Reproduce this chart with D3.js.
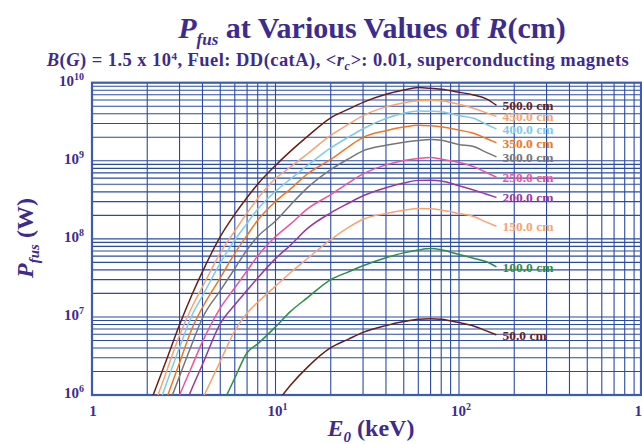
<!DOCTYPE html>
<html><head><meta charset="utf-8">
<script src="https://cdn.jsdelivr.net/npm/d3@7"></script>
<style>
html,body{margin:0;padding:0;background:#fff;}
svg{display:block;}
text{font-family:"Liberation Serif","Times New Roman",serif;font-weight:bold;}
</style></head>
<body><svg id="chart" width="642" height="444"></svg>
<script>
// ---- data ----
const energy = [2, 2.5, 3, 3.5, 4, 5, 6, 7, 8, 10, 12, 15, 20, 25, 30, 40, 50, 60, 70, 80, 100, 120, 140, 160];
const p500 = [6.31e5, 2.51e6, 7.94e6, 1.91e7, 3.80e7, 1.07e8, 2.07e8, 3.39e8, 5.01e8, 8.71e8, 1.31e9, 2.07e9, 3.55e9, 4.58e9, 5.60e9, 7.10e9, 8.05e9, 8.65e9, 8.47e9, 8.22e9, 7.55e9, 6.97e9, 6.25e9, 5.13e9];
const p450 = [4.17e5, 1.77e6, 5.81e6, 1.33e7, 2.43e7, 6.58e7, 1.26e8, 2.14e8, 3.29e8, 5.94e8, 8.24e8, 1.24e9, 2.11e9, 2.94e9, 3.78e9, 4.90e9, 5.55e9, 5.87e9, 5.96e9, 5.87e9, 5.31e9, 4.70e9, 4.14e9, 3.70e9];
const p400 = [2.95e5, 1.25e6, 4.08e6, 1.04e7, 1.86e7, 4.90e7, 9.66e7, 1.58e8, 2.40e8, 4.05e8, 5.78e8, 8.77e8, 1.46e9, 2.01e9, 2.57e9, 3.48e9, 4.06e9, 4.35e9, 4.31e9, 4.25e9, 3.79e9, 3.50e9, 2.96e9, 2.55e9];
const p350 = [null, 7.94e5, 2.59e6, 7.01e6, 1.32e7, 3.16e7, 6.53e7, 1.11e8, 1.73e8, 3.01e8, 4.31e8, 6.84e8, 1.04e9, 1.51e9, 1.99e9, 2.43e9, 2.70e9, 2.85e9, 2.80e9, 2.72e9, 2.47e9, 2.25e9, 1.94e9, 1.70e9];
const p300 = [null, 5.62e5, 1.74e6, 4.47e6, 9.70e6, 2.17e7, 4.17e7, 7.24e7, 1.07e8, 1.69e8, 2.68e8, 4.56e8, 7.71e8, 1.06e9, 1.34e9, 1.58e9, 1.73e9, 1.82e9, 1.87e9, 1.83e9, 1.61e9, 1.52e9, 1.29e9, 1.12e9];
const p250 = [null, 3.16e5, 9.89e5, 2.32e6, 4.82e6, 1.30e7, 2.36e7, 3.91e7, 6.05e7, 1.07e8, 1.53e8, 2.44e8, 3.69e8, 5.22e8, 6.79e8, 8.87e8, 1.01e9, 1.07e9, 1.10e9, 1.05e9, 9.51e8, 8.41e8, 7.13e8, 6.17e8];
const p200 = [null, null, 4.90e5, 1.20e6, 2.46e6, 8.20e6, 1.43e7, 2.19e7, 3.16e7, 5.58e7, 8.20e7, 1.37e8, 2.15e8, 2.86e8, 3.56e8, 4.52e8, 5.18e8, 5.61e8, 5.62e8, 5.50e8, 4.79e8, 4.23e8, 3.76e8, 3.39e8];
const p150 = [null, null, null, null, 8.91e5, 2.70e6, 6.61e6, 1.12e7, 1.54e7, 2.48e7, 3.65e7, 5.65e7, 9.79e7, 1.40e8, 1.78e8, 2.11e8, 2.32e8, 2.45e8, 2.43e8, 2.34e8, 2.11e8, 1.93e8, 1.65e8, 1.45e8];
const p100 = [null, null, null, null, null, 6.61e5, 1.65e6, 3.48e6, 4.52e6, 7.45e6, 1.16e7, 1.78e7, 3.01e7, 3.78e7, 4.53e7, 5.74e7, 6.61e7, 7.19e7, 7.50e7, 7.26e7, 6.31e7, 5.65e7, 5.13e7, 4.37e7];
const p50  = [null, null, null, null, null, null, null, null, null, 7.59e5, 1.31e6, 2.29e6, 4.03e6, 5.20e6, 6.34e6, 7.74e6, 8.71e6, 9.35e6, 9.51e6, 9.33e6, 8.47e6, 7.67e6, 6.67e6, 5.89e6];
const seriesValues = [p500, p450, p400, p350, p300, p250, p200, p150, p100, p50];
const seriesLabels = ["500.0 cm", "450.0 cm", "400.0 cm", "350.0 cm", "300.0 cm", "250.0 cm", "200.0 cm", "150.0 cm", "100.0 cm", "50.0 cm"];
const seriesColors = ["#6b1e12", "#f9a36e", "#7fcbe6", "#f2761e", "#767676", "#f0529c", "#9b36a0", "#f9a36e", "#2e8f3e", "#6b1e12"];
const xTickExp = [0, 1, 2, 3];
const yTickExp = [6, 7, 8, 9, 10];

// ---- layout ----
const textColor = "#3d2b8f";
const gridColor = "#2a4aa6";
const L = 92, R = 642.5, T = 82.7, B = 395;
const svg = d3.select("#chart");
svg.append("rect").attr("width", 642).attr("height", 444).attr("fill", "#fff");

const x = d3.scaleLog().domain([1, 1000]).range([L, R]);
const y = d3.scaleLog().domain([1e6, 1e10]).range([B, T]);

// grid
const xGrid = [];
for (let k = 0; k < 3; k++) for (let m = 1; m <= 9; m++) xGrid.push(m * Math.pow(10, k));
const yGrid = [];
for (let k = 6; k < 10; k++) for (let m = 1; m <= 9; m++) yGrid.push(m * Math.pow(10, k));
const g = svg.append("g");
g.selectAll("line.vx").data(xGrid).join("line")
  .attr("x1", d => x(d)).attr("x2", d => x(d)).attr("y1", T).attr("y2", B)
  .attr("stroke", gridColor).attr("stroke-width", 1.1);
g.selectAll("line.hy").data(yGrid).join("line")
  .attr("y1", d => y(d)).attr("y2", d => y(d)).attr("x1", L).attr("x2", 641)
  .attr("stroke", gridColor).attr("stroke-width", 1.1);

// frame
svg.append("rect").attr("x", L).attr("y", T).attr("width", 641 - L).attr("height", B - T)
  .attr("fill", "none").attr("stroke", "#3a5cb4").attr("stroke-width", 2.2);

// clip
svg.append("clipPath").attr("id", "clip").append("rect")
  .attr("x", L).attr("y", T).attr("width", 641 - L).attr("height", B - T);

const line = d3.line()
  .defined(d => d[1] != null)
  .x(d => x(d[0])).y(d => y(d[1]))
  .curve(d3.curveMonotoneX);

const lg = svg.append("g").attr("clip-path", "url(#clip)");
seriesValues.forEach((vals, i) => {
  const pts = energy.map((e, j) => [e, vals[j]]);
  lg.append("path").attr("d", line(pts)).attr("fill", "none")
    .attr("stroke", seriesColors[i]).attr("stroke-width", 1.5);
});
// series labels at line ends
seriesValues.forEach((vals, i) => {
  const n = energy.length - 1;
  svg.append("text").attr("x", x(energy[n]) + 6).attr("y", y(vals[n]))
    .attr("dy", "0.35em").attr("font-size", 13.5).attr("fill", seriesColors[i])
    .text(seriesLabels[i]);
});

// x tick labels
xTickExp.forEach(k => {
  const t = svg.append("text").attr("x", x(Math.pow(10, k)) + (k === 0 ? 1 : 2)).attr("y", 416)
    .attr("text-anchor", "middle").attr("font-size", 15).attr("fill", textColor);
  if (k === 0) { t.text("1"); }
  else {
    t.append("tspan").text("10");
    t.append("tspan").attr("dy", -6).attr("font-size", 10).text(String(k));
  }
});
// y tick labels
yTickExp.forEach(k => {
  const t = svg.append("text").attr("x", 84).attr("y", y(Math.pow(10, k)) + 3)
    .attr("text-anchor", "end").attr("font-size", 15).attr("fill", textColor);
  t.append("tspan").text("10");
  t.append("tspan").attr("dy", -6).attr("font-size", 10).text(String(k));
});

// title
const title = svg.append("text").attr("x", 372).attr("y", 38).attr("text-anchor", "middle")
  .attr("font-size", 30).attr("fill", textColor);
title.append("tspan").attr("font-style", "italic").text("P");
title.append("tspan").attr("font-style", "italic").attr("font-size", 17).attr("dy", 7).text("fus");
title.append("tspan").attr("dy", -7).text(" at Various Values of ");
title.append("tspan").attr("font-style", "italic").text("R");
title.append("tspan").text("(cm)");

// subtitle
const sub = svg.append("text").attr("x", 338).attr("y", 66).attr("text-anchor", "middle")
  .attr("font-size", 18.5).attr("letter-spacing", 0.45).attr("fill", textColor);
sub.append("tspan").attr("font-style", "italic").text("B");
sub.append("tspan").text("(");
sub.append("tspan").attr("font-style", "italic").text("G");
sub.append("tspan").text(") = 1.5 x 10");
sub.append("tspan").attr("dy", -6).attr("font-size", 11).text("4");
sub.append("tspan").attr("dy", 6).text(", Fuel: DD(catA), ");
sub.append("tspan").attr("font-style", "italic").text("<r");
sub.append("tspan").attr("font-style", "italic").attr("font-size", 12).attr("dy", 4).text("c");
sub.append("tspan").attr("font-style", "italic").attr("dy", -4).text(">");
sub.append("tspan").text(": 0.01, superconducting magnets");

// x axis title
const xt = svg.append("text").attr("x", 371).attr("y", 436).attr("text-anchor", "middle")
  .attr("font-size", 24).attr("fill", textColor);
xt.append("tspan").attr("font-style", "italic").text("E");
xt.append("tspan").attr("font-style", "italic").attr("font-size", 15).attr("dy", 6).text("0");
xt.append("tspan").attr("dy", -6).text(" (keV)");

// y axis title
const yt = svg.append("text").attr("transform", "translate(33,238) rotate(-90)")
  .attr("text-anchor", "middle").attr("font-size", 24).attr("fill", textColor);
yt.append("tspan").attr("font-style", "italic").text("P");
yt.append("tspan").attr("font-style", "italic").attr("font-size", 15).attr("dy", 6).text("fus");
yt.append("tspan").attr("dy", -6).text(" (W)");
</script></body></html>
